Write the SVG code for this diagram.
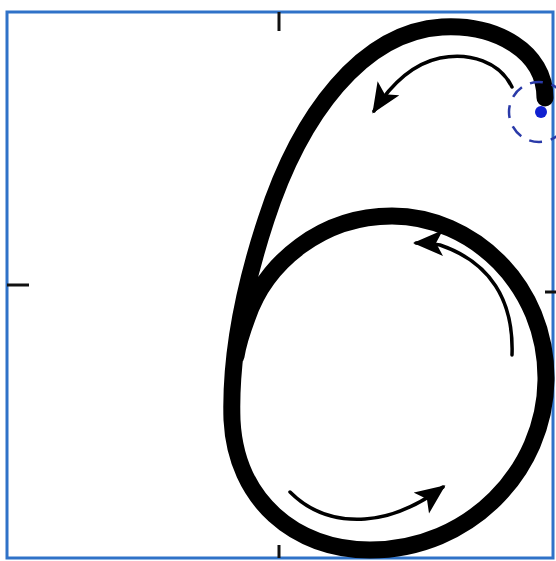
<svg xmlns="http://www.w3.org/2000/svg" width="556" height="561" viewBox="0 0 556 561">
<style>
.frame{fill:#ffffff;stroke:#2f72c8;stroke-width:3}
.tick{stroke:#111;stroke-width:3}
.six{fill:none;stroke:#000;stroke-width:17;stroke-linecap:round;stroke-linejoin:round}
.arrow{fill:none;stroke:#000;stroke-width:3.5;stroke-linecap:round}
.guide{fill:none;stroke:#2a3aa8;stroke-width:2.5;stroke-dasharray:13 9}
</style>
<defs>
<marker id="head" markerUnits="userSpaceOnUse" markerWidth="34" markerHeight="28" refX="27" refY="13" orient="auto">
<path d="M0,0 L30,13 L0,26 L7,13 Z" fill="#000"/>
</marker>
</defs>
<rect class="frame" x="7" y="12" width="546" height="546"/>
<g id="ticks">
<line class="tick" x1="279" y1="12" x2="279" y2="31"/>
<line class="tick" x1="7" y1="285" x2="29" y2="285"/>
<line class="tick" x1="279" y1="545" x2="279" y2="558"/>
<line class="tick" x1="545" y1="292" x2="556" y2="292"/>
</g>
<g id="digit6">
<path class="six" d="M545 98 C545 52 497 24 442 27 C362 32 300 115 266 220 C243 290 230 360 232 420 C236 500 295 550 370 550 C470 550 545 470 546 380 C547 285 472 216 392 216 C322 216 266 262 247 318 C241 334 238 344 236 356"/>
</g>
<g id="start">
<circle class="guide" cx="539" cy="112" r="30"/>
<circle cx="541" cy="112" r="6" fill="#1020d0"/>
</g>
<g id="connectors">
<path class="arrow" marker-end="url(#head)" d="M512 87 C500 62 470 52 440 58 C412 64 390 86 374 111"/>
<path class="arrow" marker-end="url(#head)" d="M512 355 C514 300 490 262 440 245 C430 243 424 243 416 243"/>
<path class="arrow" marker-end="url(#head)" d="M290 492 C310 512 335 521 365 519 C395 517 420 504 443 487"/>
</g>
</svg>
